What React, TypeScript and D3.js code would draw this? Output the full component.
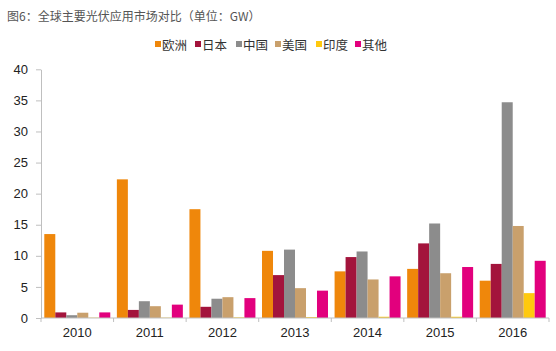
import * as d3 from "d3"
import { useEffect, useRef } from "react"

const years = ["2010", "2011", "2012", "2013", "2014", "2015", "2016"]
const seriesNames = ["欧洲", "日本", "中国", "美国", "印度", "其他"]
const europe = [13.5, 22.3, 17.5, 10.8, 7.5, 7.9, 6.0]
const japan = [0.9, 1.3, 1.8, 6.9, 9.8, 12.0, 8.7]
const china = [0.45, 2.7, 3.1, 11.0, 10.7, 15.2, 34.7]
const usa = [0.85, 1.9, 3.35, 4.8, 6.2, 7.2, 14.8]
const india = [0.05, 0.05, 0.1, 0.15, 0.2, 0.2, 4.0]
const others = [0.9, 2.15, 3.2, 4.4, 6.7, 8.2, 9.2]
const yTicks = [0, 5, 10, 15, 20, 25, 30, 35, 40]
const colors = ["#EF870B", "#A3143C", "#8C8C8C", "#C9A06C", "#FFC90E", "#E2007D"]

const App = () => {
  const svgRef = useRef<SVGSVGElement | null>(null)

  useEffect(() => {
    if (!svgRef.current) return
    const root = d3.select(svgRef.current)
    root.selectAll("*").remove()

    const values = [europe, japan, china, usa, india, others]
    const left = 41
    const right = 549
    const top = 69.3
    const bottom = 318
    const axisColor = "#BFBFBF"
    const font = "'Liberation Sans', Arial, sans-serif"

    const x = d3.scaleBand<string>().domain(years).range([left, right]).padding(0)
    const inner = d3
      .scaleBand<string>()
      .domain(seriesNames)
      .range([0, x.bandwidth()])
      .paddingInner(0)
      .paddingOuter(0.3)
    const y = d3.scaleLinear().domain([0, 40]).range([bottom, top])

    // Title
    root
      .append("text")
      .attr("x", 7)
      .attr("y", 21)
      .style("font-family", "'Noto Sans CJK SC', sans-serif")
      .style("font-size", "12px")
      .attr("fill", "#555")
      .text("图6：全球主要光伏应用市场对比（单位：GW）")

    // Legend
    const legendX = [155, 195, 236, 275, 316, 355]
    const legend = root.append("g")
    seriesNames.forEach((name, i) => {
      legend
        .append("rect")
        .attr("x", legendX[i])
        .attr("y", 41)
        .attr("width", 6)
        .attr("height", 6)
        .attr("fill", colors[i])
      legend
        .append("text")
        .attr("x", legendX[i] + 7)
        .attr("y", 49.5)
        .style("font-family", "'Noto Sans CJK SC', sans-serif")
        .style("font-size", "12.5px")
        .attr("fill", "#333")
        .text(name)
    })

    // Bars
    values.forEach((series, si) => {
      root
        .append("g")
        .selectAll("rect")
        .data(series)
        .enter()
        .append("rect")
        .attr("x", (_d, i) => (x(years[i]) ?? 0) + (inner(seriesNames[si]) ?? 0))
        .attr("y", d => y(d))
        .attr("width", inner.bandwidth())
        .attr("height", d => bottom - y(d))
        .attr("fill", colors[si])
    })

    // Y axis
    const yAxis = root
      .append("g")
      .attr("transform", `translate(${left},0)`)
      .call(d3.axisLeft(y).tickValues(yTicks).tickSize(5).tickSizeOuter(0).tickPadding(8))
    yAxis.select(".domain").attr("stroke", axisColor)
    yAxis.selectAll(".tick line").attr("stroke", axisColor)
    yAxis
      .selectAll(".tick text")
      .attr("fill", "#222")
      .style("font-family", font)
      .style("font-size", "13px")

    // X axis
    const xAxis = root.append("g")
    xAxis
      .append("line")
      .attr("x1", left)
      .attr("x2", right)
      .attr("y1", bottom)
      .attr("y2", bottom)
      .attr("stroke", axisColor)
    const bounds = years.map(yr => x(yr) ?? 0).concat([right])
    xAxis
      .selectAll(".xt")
      .data(bounds)
      .enter()
      .append("line")
      .attr("x1", d => d)
      .attr("x2", d => d)
      .attr("y1", bottom)
      .attr("y2", bottom + 4)
      .attr("stroke", axisColor)
    xAxis
      .selectAll(".xl")
      .data(years)
      .enter()
      .append("text")
      .attr("x", d => (x(d) ?? 0) + x.bandwidth() / 2)
      .attr("y", 337)
      .attr("text-anchor", "middle")
      .attr("fill", "#222")
      .style("font-family", font)
      .style("font-size", "13px")
      .text(d => d)
  }, [])

  return (
    <svg
      ref={svgRef}
      width={556}
      height={351}
      style={{ position: "absolute", left: 0, top: 0, background: "#fff" }}
    />
  )
}

export default App
